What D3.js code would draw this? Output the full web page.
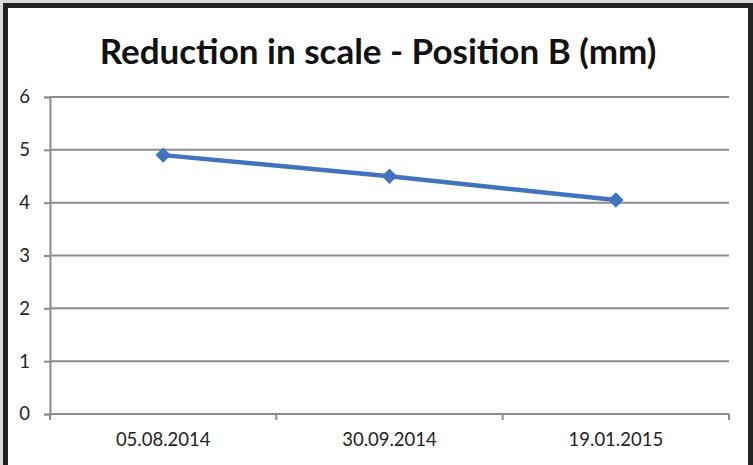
<!DOCTYPE html>
<html>
<head>
<meta charset="utf-8">
<script src="https://cdn.jsdelivr.net/npm/d3@7"></script>
<style>
  html, body { margin: 0; padding: 0; background: #d9d9d9; }
  #chart { width: 753px; height: 465px; }
</style>
</head>
<body>
<div id="chart"></div>
<script>
/* Line chart — reduction in scale at position B over three dates. */

var dates = ["05.08.2014", "30.09.2014", "19.01.2015"];
var reduction = [4.9, 4.5, 4.05];
var yTicks = [0, 1, 2, 3, 4, 5, 6];
var title = "Reduction in scale - Position B (mm)";

(function () {
  var W = 753, H = 465;
  var m = { left: 50, right: 24, top: 97, bottom: 51 };

  var svg = d3.select("#chart").append("svg")
    .attr("width", W).attr("height", H);

  // frame: dark border on top/left/right, white inside
  svg.append("rect").attr("x", 3).attr("y", 3).attr("width", W - 3).attr("height", H)
    .attr("fill", "#222");
  svg.append("rect").attr("x", 8).attr("y", 8).attr("width", W - 13).attr("height", H)
    .attr("fill", "#fff");

  var x = d3.scaleBand().domain(dates).range([m.left, W - m.right]);
  var y = d3.scaleLinear().domain([0, 6]).range([H - m.bottom, m.top]);

  svg.append("text")
    .attr("x", 378).attr("y", 64)
    .attr("text-anchor", "middle")
    .attr("font-family", "Lato, 'Open Sans', sans-serif")
    .attr("font-weight", "bold")
    .attr("font-size", 35)
    .attr("fill", "#111")
    .text(title);

  // horizontal gridlines
  svg.append("g").selectAll("line").data(yTicks.slice(1)).join("line")
    .attr("x1", m.left).attr("x2", W - m.right)
    .attr("y1", function (d) { return y(d); }).attr("y2", function (d) { return y(d); })
    .attr("stroke", "#8c8c8c").attr("stroke-width", 2);

  var yAxis = svg.append("g")
    .attr("transform", "translate(" + m.left + ",0)")
    .call(d3.axisLeft(y).tickValues(yTicks).tickSize(6).tickPadding(14).tickFormat(d3.format("d")));
  var xAxis = svg.append("g")
    .attr("transform", "translate(0," + y(0) + ")")
    .call(d3.axisBottom(x).tickSize(0).tickPadding(19));

  // category boundary ticks on x axis
  var bounds = [m.left].concat(dates.map(function (d) { return x(d) + x.bandwidth(); }));
  svg.append("g").selectAll("line").data(bounds).join("line")
    .attr("x1", function (d) { return d; }).attr("x2", function (d) { return d; })
    .attr("y1", y(0)).attr("y2", y(0) + 6)
    .attr("stroke", "#8c8c8c").attr("stroke-width", 2);

  [yAxis, xAxis].forEach(function (g) {
    g.select(".domain").attr("stroke", "#8c8c8c").attr("stroke-width", 2);
    g.selectAll(".tick line").attr("stroke", "#8c8c8c").attr("stroke-width", 2);
    g.selectAll("text")
      .attr("font-family", "Lato, 'Open Sans', sans-serif")
      .attr("font-size", 18.5)
      .attr("fill", "#222");
  });
  xAxis.select(".domain").attr("d", "M" + m.left + ",0H" + (W - m.right));

  var cx = function (d, i) { return x(dates[i]) + x.bandwidth() / 2; };
  var line = d3.line().x(cx).y(function (d) { return y(d); });

  svg.append("path").datum(reduction)
    .attr("fill", "none")
    .attr("stroke", "#4173bf")
    .attr("stroke-width", 4.5)
    .attr("d", line);

  svg.append("g").selectAll("path").data(reduction).join("path")
    .attr("d", d3.symbol(d3.symbolDiamond2, 150))
    .attr("transform", function (d, i) { return "translate(" + cx(d, i) + "," + y(d) + ")"; })
    .attr("fill", "#4173bf");
})();
</script>
</body>
</html>
